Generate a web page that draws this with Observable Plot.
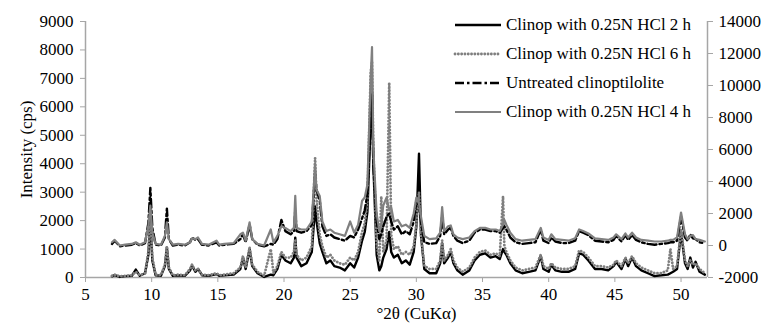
<!DOCTYPE html>
<html><head><meta charset="utf-8">
<script src="https://cdn.jsdelivr.net/npm/d3@7"></script>
<script src="https://cdn.jsdelivr.net/npm/@observablehq/plot@0.6"></script>
<style>
body{margin:0;background:#fff;}
#wrap{position:relative;width:766px;height:330px;font-family:"Liberation Serif",serif;}
#wrap svg text{font-family:"Liberation Serif",serif !important;font-size:17px !important;}
#legend{position:absolute;left:453px;top:10px;font-size:17px;color:#000;}
.row{display:flex;align-items:center;height:29px;white-space:nowrap}
.row svg{margin-right:3px;display:block}
</style></head><body><div id="wrap"><div id="legend"></div></div>
<script>
const twoTheta = [
 7.0, 7.2, 7.6, 8.0, 8.5, 8.8, 9.1, 9.5, 9.75, 9.9,
 10.05, 10.3, 10.7, 11.0, 11.15, 11.3, 11.6, 12.0, 12.5, 12.9,
 13.05, 13.3, 13.5, 13.8, 14.3, 14.9, 15.1, 15.5, 16.2, 16.7,
 16.9, 17.1, 17.4, 17.6, 18.0, 18.5, 19.0, 19.2, 19.5, 19.8,
 20.1, 20.5, 20.75, 20.85, 20.95, 21.3, 21.7, 22.1, 22.35, 22.45,
 22.7, 22.9, 23.2, 23.5, 23.8, 24.2, 24.6, 25.0, 25.3, 25.6,
 25.9, 26.1, 26.3, 26.55, 26.65, 26.75, 27.0, 27.2, 27.35, 27.5,
 27.75, 27.95, 28.1, 28.3, 28.6, 28.9, 29.2, 29.5, 29.8, 30.0,
 30.2, 30.35, 30.6, 31.0, 31.5, 31.8, 31.95, 32.1, 32.4, 32.6,
 32.8, 33.1, 33.5, 34.0, 34.4, 34.8, 35.2, 35.6, 36.0, 36.3,
 36.55, 36.65, 36.8, 37.1, 37.5, 38.0, 38.5, 39.0, 39.4, 39.6,
 40.0, 40.2, 40.5, 41.0, 41.5, 42.0, 42.3, 42.6, 43.0, 43.5,
 44.0, 44.5, 44.9, 45.1, 45.5, 45.8, 46.0, 46.3, 46.6, 47.0,
 47.5, 48.0, 48.5, 49.0, 49.2, 49.4, 49.7, 50.0, 50.3, 50.5,
 50.7, 50.9, 51.1, 51.4, 51.8
];
// Clinop with 0.25N HCl 2 h (left axis)
const hcl2h = [
 40, 80, 20, 50, 60, 280, 60, 150, 800, 2000,
 600, 80, 60, 400, 1050, 300, 60, 80, 60, 250,
 420, 200, 300, 80, 60, 120, 60, 80, 100, 300,
 700, 300, 1000, 400, 150, 20, 100, 80, 300, 800,
 600, 500, 700, 1400, 700, 400, 500, 900, 2500, 2000,
 1200, 900, 500, 600, 400, 350, 250, 500, 350, 700,
 1300, 1600, 2300, 5500, 6500, 4000, 800, 250, 400, 700,
 1000, 1600, 900, 700, 800, 500, 600, 450, 900, 1800,
 4350, 1500, 300, 150, 150, 500, 1200, 500, 700, 900,
 500, 250, 100, 250, 600, 800, 850, 700, 750, 650,
 1000, 900, 800, 500, 250, 150, 200, 250, 750, 300,
 200, 450, 250, 200, 200, 300, 850, 800, 600, 300,
 300, 250, 400, 550, 300, 650, 400, 700, 400, 250,
 150, 50, 80, 100, 150, 200, 300, 1600, 500, 300,
 700, 350, 550, 200, 100
];
// Clinop with 0.25N HCl 6 h (left axis)
const hcl6h = [
 60, 100, 40, 60, 80, 200, 80, 150, 900, 2300,
 700, 100, 80, 450, 1100, 350, 80, 100, 80, 300,
 450, 250, 300, 100, 80, 150, 80, 100, 150, 350,
 750, 350, 1050, 450, 200, 60, 1000, 150, 400, 900,
 700, 700, 900, 1300, 800, 600, 700, 1100, 4200, 2800,
 1500, 1100, 700, 800, 600, 500, 450, 700, 600, 900,
 1600, 1900, 2700, 7200, 7600, 4500, 1200, 600, 2850, 900,
 1300, 6850, 1500, 1000, 1100, 800, 900, 800, 1100, 1900,
 3000, 1500, 400, 300, 300, 600, 1300, 600, 800, 1000,
 600, 350, 200, 350, 700, 900, 950, 800, 850, 750,
 2850, 1100, 900, 600, 350, 250, 300, 350, 800, 400,
 300, 500, 350, 300, 300, 400, 950, 900, 700, 400,
 400, 350, 450, 600, 400, 700, 500, 750, 500, 350,
 250, 150, 150, 250, 1000, 300, 400, 1700, 600, 400,
 600, 450, 500, 300, 150
];
// Untreated clinoptilolite (right axis)
const untreated = [
 100, 300, -50, 0, 50, 150, 0, 150, 1400, 3600,
 1100, 50, 0, 500, 2300, 400, 0, 50, 0, 200,
 500, 350, 400, 50, 0, 200, 0, 50, 100, 400,
 700, 200, 1300, 400, 50, -50, 100, 50, 400, 1600,
 900, 700, 900, 2200, 900, 800, 900, 1300, 4500, 3500,
 2800, 1200, 600, 700, 500, 400, 300, 600, 500, 1000,
 1700, 2200, 3200, 8000, 9500, 5000, 1500, 400, 700, 1200,
 1800, 2000, 1500, 1000, 1200, 700, 900, 700, 1500, 2800,
 2500, 1500, 200, 100, 150, 600, 1800, 700, 1000, 1100,
 600, 300, 150, 300, 800, 1000, 1000, 900, 900, 800,
 1100, 1200, 1000, 500, 200, 100, 150, 200, 1000, 300,
 150, 500, 250, 150, 150, 300, 900, 800, 650, 300,
 250, 200, 350, 600, 250, 650, 350, 650, 350, 200,
 100, 50, 100, 150, 200, 200, 300, 1800, 500, 300,
 700, 450, 400, 200, 150
];
// Clinop with 0.25N HCl 4 h (right axis)
const hcl4h = [
 200, 350, 0, 50, 100, 200, 50, 200, 1200, 2500,
 800, 100, 50, 600, 1450, 400, 50, 100, 50, 200,
 450, 400, 500, 100, 50, 300, 50, 100, 150, 700,
 800, 300, 1450, 400, 100, 0, 1000, 200, 600, 1200,
 1100, 900, 1100, 3100, 1100, 1000, 1000, 1500, 5100, 3500,
 3100, 1500, 900, 1000, 800, 700, 600, 1500, 800, 1300,
 2800, 3000, 3800, 10500, 12400, 6000, 2000, 900, 1300, 2500,
 3000, 2200, 2400, 1500, 1600, 1200, 1300, 1100, 2000, 3000,
 2600, 1800, 600, 400, 450, 800, 2400, 900, 1200, 1250,
 700, 500, 400, 500, 900, 1100, 1100, 1000, 1000, 900,
 1300, 1600, 1300, 800, 400, 300, 350, 400, 1100, 500,
 350, 700, 400, 350, 300, 450, 1000, 900, 750, 450,
 400, 350, 500, 700, 400, 750, 500, 800, 500, 350,
 300, 250, 250, 300, 350, 350, 500, 2060, 700, 400,
 600, 650, 400, 350, 250
];
const xTicks = [5, 10, 15, 20, 25, 30, 35, 40, 45, 50];
const leftTicks = [0, 1000, 2000, 3000, 4000, 5000, 6000, 7000, 8000, 9000];
const rightTicks = [-2000, 0, 2000, 4000, 6000, 8000, 10000, 12000, 14000];
const seriesNames = ["Clinop with 0.25N HCl 2 h", "Clinop with 0.25N HCl 6 h", "Untreated  clinoptilolite", "Clinop with 0.25N HCl 4 h"];

// secondary axis [-2000,14000] <-> primary axis [0,9000]
const toLeft = v => (v + 2000) * 9000 / 16000;
const toRight = v => v * 16000 / 9000 - 2000;

const styles = [
  {stroke: "#000", strokeWidth: 2.4},
  {stroke: "#7f7f7f", strokeWidth: 2.8, strokeDasharray: "0.1,3.2", strokeLinecap: "round"},
  {stroke: "#000", strokeWidth: 2.4, strokeDasharray: "9,3,2.5,3"},
  {stroke: "#808080", strokeWidth: 2.2}
];
const build = (vals, right) => twoTheta.map((x, i) => ({x, y: right ? toLeft(vals[i]) : vals[i]}));
const sets = [build(hcl2h, false), build(hcl6h, false), build(untreated, true), build(hcl4h, true)];

const axisGray = "#a6a6a6";
const chart = Plot.plot({
  width: 766, height: 330,
  marginLeft: 85, marginRight: 59, marginTop: 21, marginBottom: 53,
  style: {fontFamily: "Liberation Serif, serif", fontSize: "17px", color: "#000", background: "transparent"},
  x: {domain: [5, 52]},
  y: {domain: [0, 9000]},
  marks: [
    Plot.axisX({ticks: xTicks, tickFormat: d => String(d), tickSize: 5, tickPadding: 5, stroke: axisGray, fill: "#000", label: null}),
    Plot.axisY({anchor: "left", ticks: leftTicks, tickFormat: d => String(d), tickSize: 5, tickPadding: 7, stroke: axisGray, fill: "#000",
      label: "Intensity (cps)", labelAnchor: "center", labelArrow: "none", labelOffset: 66}),
    Plot.axisY({anchor: "right", ticks: rightTicks.map(toLeft), tickFormat: d => String(Math.round(toRight(d))),
      tickSize: 5, tickPadding: 6, stroke: axisGray, fill: "#000", label: null}),
    Plot.ruleX([5], {stroke: axisGray, strokeWidth: 1.5}),
    Plot.ruleX([52], {stroke: axisGray, strokeWidth: 1.5}),
    Plot.ruleY([0], {stroke: axisGray, strokeWidth: 1.5}),
    ...sets.map((d, i) => Plot.line(d, {x: "x", y: "y", ...styles[i]})),
    Plot.text(["°2θ (CuKα)"], {frameAnchor: "bottom", dx: 20, dy: 41})
  ]
});
const wrap = document.getElementById("wrap");
wrap.insertBefore(chart, wrap.firstChild);

const legend = document.getElementById("legend");
seriesNames.forEach((name, i) => {
  const s = styles[i];
  const row = document.createElement("div");
  row.className = "row";
  row.innerHTML = `<svg width="50" height="10"><line x1="2" x2="48" y1="5" y2="5" stroke="${s.stroke}" stroke-width="${s.strokeWidth}" ${s.strokeDasharray ? `stroke-dasharray="${s.strokeDasharray}"` : ""} ${s.strokeLinecap ? `stroke-linecap="${s.strokeLinecap}"` : ""}/></svg><span>${name}</span>`;
  legend.appendChild(row);
});
</script>
</body></html>
